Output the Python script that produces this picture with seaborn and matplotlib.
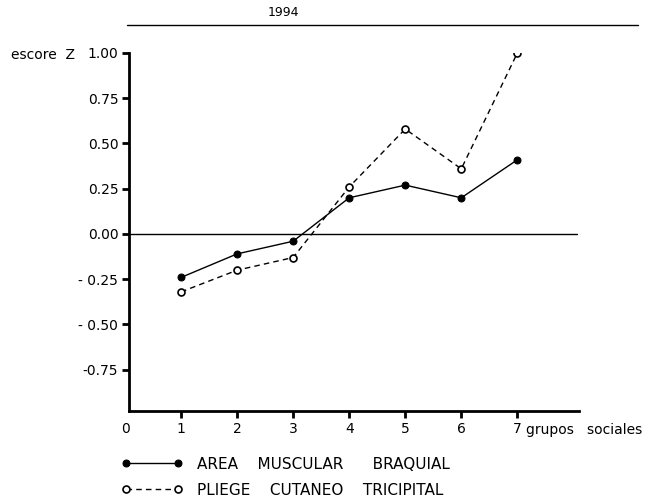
import numpy as np
import pandas as pd
import matplotlib
matplotlib.use("Agg")
import matplotlib.pyplot as plt
import seaborn as sns
from matplotlib.lines import Line2D

sns.set_style("white")
plt.rcParams['font.family'] = ['DejaVu Sans']
plt.rcParams['text.color'] = 'black'
plt.rcParams['xtick.color'] = 'black'
plt.rcParams['ytick.color'] = 'black'

# datos
grupos = [1, 2, 3, 4, 5, 6, 7]
area_muscular = [-0.24, -0.11, -0.04, 0.20, 0.27, 0.20, 0.41]
pliege_cutaneo = [-0.32, -0.20, -0.13, 0.26, 0.58, 0.36, 1.00]
yticks = [-0.75, -0.50, -0.25, 0.00, 0.25, 0.50, 0.75, 1.00]
ytick_labels = ["-0.75", "- 0.50", "- 0.25", "0.00", "0.25", "0.50", "0.75", "1.00"]
xticks = [0, 1, 2, 3, 4, 5, 6, 7]

df = pd.DataFrame({'grupo': grupos, 'area': area_muscular, 'pliege': pliege_cutaneo})

W, H = 654, 499
fig = plt.figure(figsize=(W / 100, H / 100), dpi=100)
ax = fig.add_axes([125 / W, 1 - 411 / H, 454 / W, 358 / H])

sns.lineplot(data=df, x='grupo', y='area', ax=ax, color='black', lw=1.0,
             marker='o', markersize=5, markerfacecolor='black',
             markeredgecolor='black', label='AREA    MUSCULAR      BRAQUIAL')
sns.lineplot(data=df, x='grupo', y='pliege', ax=ax, color='black', lw=1.0,
             ls=(0, (4, 3)), marker='o', markersize=5, markerfacecolor='white',
             markeredgecolor='black', markeredgewidth=1.2,
             label='PLIEGE    CUTANEO    TRICIPITAL')

ax.axhline(0, xmin=0.08 / 8.1, xmax=0.995, color='black', lw=1.0)

ax.set_xlim(0, 8.1)
ax.set_ylim(-0.978, 1.0)
ax.set_xticks(xticks)
ax.set_xticklabels([str(x) for x in xticks], fontsize=10)
ax.set_yticks(yticks)
ax.set_yticklabels(ytick_labels, fontsize=10)
ax.tick_params(axis='both', direction='out', length=5, width=2, color='black',
               labelcolor='black', pad=3, bottom=True, left=True)
ax.xaxis.get_major_ticks()[0].tick1line.set_visible(False)
ax.set_xlabel('')
ax.set_ylabel('')

for s in ['top', 'right']:
    ax.spines[s].set_visible(False)
ax.spines['left'].set_linewidth(2)
ax.spines['bottom'].set_linewidth(2)
ax.spines['left'].set_bounds(-0.978, 1.0)
ax.spines['left'].set_position(('data', 0.08))
ax.spines['bottom'].set_bounds(0.08, 8.1)
ax.spines['left'].set_color('black')
ax.spines['bottom'].set_color('black')

# textos de ejes
fig.text(11 / W, 1 - 55 / H, 'escore  Z', fontsize=10, va='center', ha='left')
fig.text(526 / W, 1 - 430 / H, 'grupos   sociales', fontsize=10, va='center', ha='left')

# titulo y linea superior
fig.text(283 / W, 1 - 13 / H, '1994', fontsize=9, ha='center', va='center')
fig.add_artist(Line2D([127 / W, 638 / W], [1 - 25 / H, 1 - 25 / H], color='black', lw=1.0))

ax.legend_.remove()
handles, labels = ax.get_legend_handles_labels()
fig.legend(handles, labels, loc='upper left', bbox_to_anchor=(108 / W, 1 - 443 / H),
           frameon=False, numpoints=2, handlelength=4.0, handletextpad=0.9,
           labelspacing=0.72, fontsize=11, labelcolor='black')

plt.savefig('out.png', dpi=100)
